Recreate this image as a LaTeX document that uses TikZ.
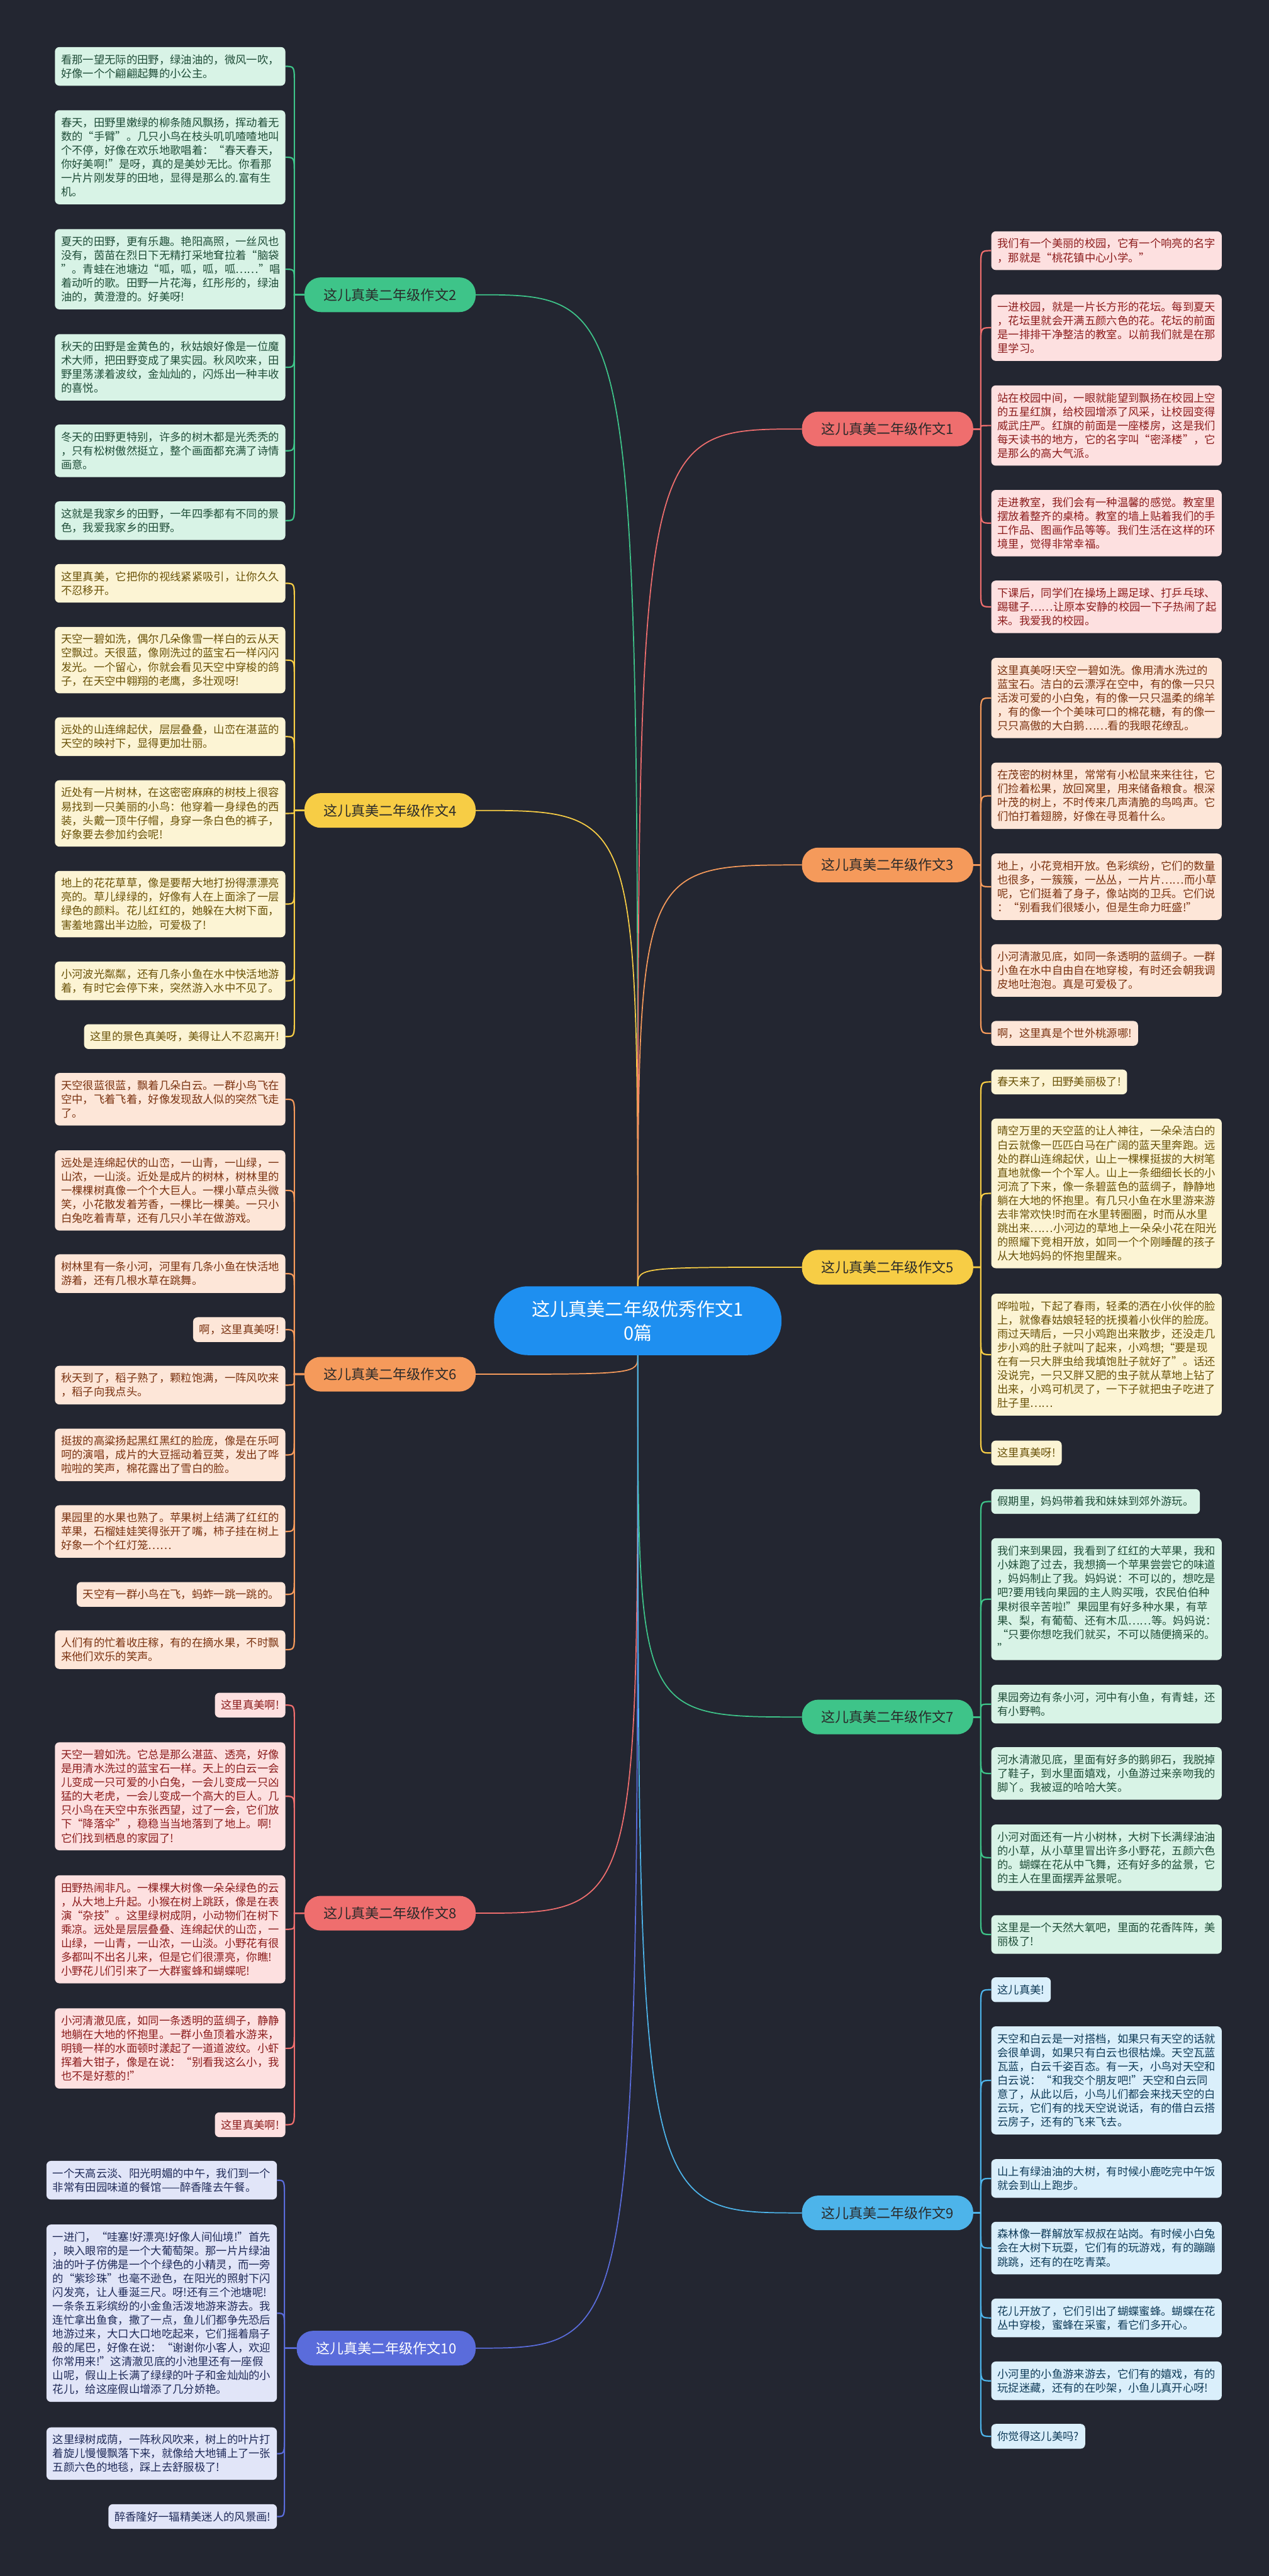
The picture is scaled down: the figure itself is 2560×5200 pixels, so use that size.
\documentclass[tikz,border=0pt]{standalone}
\usepackage{fontspec}
\newfontfamily\cjk{Noto Sans CJK SC}
\usetikzlibrary{calc}
\definecolor{bgc}{HTML}{232631}
\definecolor{gB}{HTML}{3EC489}\definecolor{gF}{HTML}{D8F3E6}\definecolor{gT}{HTML}{1F4D38}
\definecolor{yB}{HTML}{F7CD45}\definecolor{yF}{HTML}{FCF4D4}\definecolor{yT}{HTML}{6A5208}
\definecolor{oB}{HTML}{F59A5B}\definecolor{oF}{HTML}{FDE6D8}\definecolor{oT}{HTML}{7A3210}
\definecolor{rB}{HTML}{EF6E6E}\definecolor{rF}{HTML}{FDE0E0}\definecolor{rT}{HTML}{8C1C1C}
\definecolor{pB}{HTML}{5A6CDB}\definecolor{pF}{HTML}{E1E5F8}\definecolor{pT}{HTML}{1F2A58}
\definecolor{cB}{HTML}{4DB4EA}\definecolor{cF}{HTML}{DAEFFB}\definecolor{cT}{HTML}{0F3B58}
\definecolor{mainB}{HTML}{1E8FF0}
\definecolor{brT}{HTML}{2A2A2A}
\pgfdeclarelayer{bgl}\pgfdeclarelayer{cnl}\pgfsetlayers{bgl,cnl,main}
\newcommand\leaffont{\cjk\fontsize{22}{28}\selectfont}
\newcommand\brfont{\cjk\fontsize{28}{34}\selectfont}
\newcommand\mainfont{\cjk\fontsize{37}{48}\selectfont}
\tikzset{
 leaf/.style={rounded corners=9pt, inner xsep=12.5pt, inner ysep=3pt, align=left, font=\leaffont},
 wide/.style={text width=440pt},
 nl/.style={minimum height={28*#1+22}},
 gleaf/.style={leaf, fill=gF, text=gT},
 yleaf/.style={leaf, fill=yF, text=yT},
 oleaf/.style={leaf, fill=oF, text=oT},
 rleaf/.style={leaf, fill=rF, text=rT},
 pleaf/.style={leaf, fill=pF, text=pT},
 cleaf/.style={leaf, fill=cF, text=cT},
 branch/.style={rounded corners=33pt, minimum height=70pt, inner xsep=39pt, inner ysep=2pt, font=\brfont, text=brT},
 cw/.style={line width=2.8pt},
}
\newcommand\connL[4]{\begin{pgfonlayer}{cnl}\draw[#3, cw] let \p1=(#1.west), \p2=(#2.east), \n1={sign(\y1-\y2)}, \n2={min(36,abs(\y1-\y2)/2)} in (\p2) .. controls (\x2+#4,\y2) .. (\x2+#4,\y2+\n1*\n2*1pt) -- (\x2+#4,\y1) -- (\p1);\end{pgfonlayer}}
\newcommand\connR[4]{\begin{pgfonlayer}{cnl}\draw[#3, cw] let \p1=(#1.east), \p2=(#2.west), \n1={sign(\y1-\y2)}, \n2={min(36,abs(\y1-\y2)/2)} in (\p2) .. controls (\x2-#4,\y2) .. (\x2-#4,\y2+\n1*\n2*1pt) -- (\x2-#4,\y1) -- (\p1);\end{pgfonlayer}}
% central connector: #1 branch, #2 branch anchor, #3 colour, #4 central anchor
\newcommand\cc[4]{\begin{pgfonlayer}{cnl}\draw[#3, line width=2.2pt] let \p1=(C.#4), \p2=(#1.#2) in (\p1) .. controls (\x1,\y2) .. (\p2);\end{pgfonlayer}}
\begin{document}
\begin{tikzpicture}[x=1pt, y=-1pt]
\begin{pgfonlayer}{bgl}
\fill[bgc] (0,0) rectangle (2560,5200);
\end{pgfonlayer}
\useasboundingbox (0,0) rectangle (2560,5200);

% central
\node[fill=mainB, text=white, rounded corners=68pt, minimum width=580pt, minimum height=139pt, align=center, font=\mainfont] (C) at (1287,2666) {这儿真美二年级优秀作文1\\0篇};

% branches
\node[branch, fill=gB, anchor=east] (b2) at (960,595) {这儿真美二年级作文2};
\node[branch, fill=yB, anchor=east] (b4) at (960,1636) {这儿真美二年级作文4};
\node[branch, fill=oB, anchor=east] (b6) at (960,2774) {这儿真美二年级作文6};
\node[branch, fill=rB, anchor=east] (b8) at (960,3862) {这儿真美二年级作文8};
\node[branch, fill=pB, anchor=east, text=white] (b10) at (960,4740) {这儿真美二年级作文10};
\node[branch, fill=rB, anchor=west] (b1) at (1618,866) {这儿真美二年级作文1};
\node[branch, fill=oB, anchor=west] (b3) at (1618,1746) {这儿真美二年级作文3};
\node[branch, fill=yB, anchor=west] (b5) at (1618,2558) {这儿真美二年级作文5};
\node[branch, fill=gB, anchor=west] (b7) at (1618,3466) {这儿真美二年级作文7};
\node[branch, fill=cB, anchor=west] (b9) at (1618,4467) {这儿真美二年级作文9};

% ---------- left green (2)
\node[gleaf, wide, nl=2, anchor=east] (gl1) at (576,134) {看那一望无际的田野，绿油油的，微风一吹，\\好像一个个翩翩起舞的小公主。};
\node[gleaf, wide, nl=6, anchor=east] (gl2) at (576,317.5) {春天，田野里嫩绿的柳条随风飘扬，挥动着无\\数的“手臂”。几只小鸟在枝头叽叽喳喳地叫\\个不停，好像在欢乐地歌唱着：“春天春天，\\你好美啊!”是呀，真的是美妙无比。你看那\\一片片刚发芽的田地，显得是那么的.富有生\\机。};
\node[gleaf, wide, nl=5, anchor=east] (gl3) at (576,543.5) {夏天的田野，更有乐趣。艳阳高照，一丝风也\\没有，茵苗在烈日下无精打采地耷拉着“脑袋\\”。青蛙在池塘边“呱，呱，呱，呱……”唱\\着动听的歌。田野一片花海，红彤彤的，绿油\\油的，黄澄澄的。好美呀!};
\node[gleaf, wide, nl=4, anchor=east] (gl4) at (576,741.5) {秋天的田野是金黄色的，秋姑娘好像是一位魔\\术大师，把田野变成了果实园。秋风吹来，田\\野里荡漾着波纹，金灿灿的，闪烁出一种丰收\\的喜悦。};
\node[gleaf, wide, nl=3, anchor=east] (gl5) at (576,910) {冬天的田野更特别，许多的树木都是光秃秃的\\，只有松树傲然挺立，整个画面都充满了诗情\\画意。};
\node[gleaf, wide, nl=2, anchor=east] (gl6) at (576,1051) {这就是我家乡的田野，一年四季都有不同的景\\色，我爱我家乡的田野。};

% ---------- left yellow (4)
\node[yleaf, wide, nl=2, anchor=east] (yl1) at (576,1177.5) {这里真美，它把你的视线紧紧吸引，让你久久\\不忍移开。};
\node[yleaf, wide, nl=4, anchor=east] (yl2) at (576,1332.5) {天空一碧如洗，偶尔几朵像雪一样白的云从天\\空飘过。天很蓝，像刚洗过的蓝宝石一样闪闪\\发光。一个留心，你就会看见天空中穿梭的鸽\\子，在天空中翱翔的老鹰，多壮观呀!};
\node[yleaf, wide, nl=2, anchor=east] (yl3) at (576,1487) {远处的山连绵起伏，层层叠叠，山峦在湛蓝的\\天空的映衬下，显得更加壮丽。};
\node[yleaf, wide, nl=4, anchor=east] (yl4) at (576,1642) {近处有一片树林，在这密密麻麻的树枝上很容\\易找到一只美丽的小鸟：他穿着一身绿色的西\\装，头戴一顶牛仔帽，身穿一条白色的裤子，\\好象要去参加约会呢!};
\node[yleaf, wide, nl=4, anchor=east] (yl5) at (576,1825) {地上的花花草草，像是要帮大地打扮得漂漂亮\\亮的。草儿绿绿的，好像有人在上面涂了一层\\绿色的颜料。花儿红红的，她躲在大树下面，\\害羞地露出半边脸，可爱极了!};
\node[yleaf, wide, nl=2, anchor=east] (yl6) at (576,1980) {小河波光粼粼，还有几条小鱼在水中快活地游\\着，有时它会停下来，突然游入水中不见了。};
\node[yleaf, nl=1, anchor=east] (yl7) at (576,2092.5) {这里的景色真美呀，美得让人不忍离开!};

% ---------- left orange (6)
\node[oleaf, wide, nl=3, anchor=east] (ol1) at (576,2219) {天空很蓝很蓝，飘着几朵白云。一群小鸟飞在\\空中，飞着飞着，好像发现敌人似的突然飞走\\了。};
\node[oleaf, wide, nl=5, anchor=east] (ol2) at (576,2403) {远处是连绵起伏的山峦，一山青，一山绿，一\\山浓，一山淡。近处是成片的树林，树林里的\\一棵棵树真像一个个大巨人。一棵小草点头微\\笑，小花散发着芳香，一棵比一棵美。一只小\\白兔吃着青草，还有几只小羊在做游戏。};
\node[oleaf, wide, nl=2, anchor=east] (ol3) at (576,2571) {树林里有一条小河，河里有几条小鱼在快活地\\游着，还有几根水草在跳舞。};
\node[oleaf, nl=1, anchor=east] (ol4) at (576,2684) {啊，这里真美呀!};
\node[oleaf, wide, nl=2, anchor=east] (ol5) at (576,2796) {秋天到了，稻子熟了，颗粒饱满，一阵风吹来\\，稻子向我点头。};
\node[oleaf, wide, nl=3, anchor=east] (ol6) at (576,2937) {挺拔的高粱扬起黑红黑红的脸庞，像是在乐呵\\呵的演唱，成片的大豆摇动着豆荚，发出了哗\\啦啦的笑声，棉花露出了雪白的脸。};
\node[oleaf, wide, nl=3, anchor=east] (ol7) at (576,3091.5) {果园里的水果也熟了。苹果树上结满了红红的\\苹果，石榴娃娃笑得张开了嘴，柿子挂在树上\\好象一个个红灯笼……};
\node[oleaf, nl=1, anchor=east] (ol8) at (576,3218.5) {天空有一群小鸟在飞，蚂蚱一跳一跳的。};
\node[oleaf, wide, nl=2, anchor=east] (ol9) at (576,3330) {人们有的忙着收庄稼，有的在摘水果，不时飘\\来他们欢乐的笑声。};

% ---------- left red (8)
\node[rleaf, nl=1, anchor=east] (rl1) at (576,3442) {这里真美啊!};
\node[rleaf, wide, nl=7, anchor=east] (rl2) at (576,3626) {天空一碧如洗。它总是那么湛蓝、透亮，好像\\是用清水洗过的蓝宝石一样。天上的白云一会\\儿变成一只可爱的小白兔，一会儿变成一只凶\\猛的大老虎，一会儿变成一个高大的巨人。几\\只小鸟在天空中东张西望，过了一会，它们放\\下“降落伞”，稳稳当当地落到了地上。啊!\\它们找到栖息的家园了!};
\node[rleaf, wide, nl=7, anchor=east] (rl3) at (576,3894.5) {田野热闹非凡。一棵棵大树像一朵朵绿色的云\\，从大地上升起。小猴在树上跳跃，像是在表\\演“杂技”。这里绿树成阴，小动物们在树下\\乘凉。远处是层层叠叠、连绵起伏的山峦，一\\山绿，一山青，一山浓，一山淡。小野花有很\\多都叫不出名儿来，但是它们很漂亮，你瞧!\\小野花儿们引来了一大群蜜蜂和蝴蝶呢!};
\node[rleaf, wide, nl=5, anchor=east] (rl4) at (576,4135) {小河清澈见底，如同一条透明的蓝绸子，静静\\地躺在大地的怀抱里。一群小鱼顶着水游来，\\明镜一样的水面顿时漾起了一道道波纹。小虾\\挥着大钳子，像是在说：“别看我这么小，我\\也不是好惹的!”};
\node[rleaf, nl=1, anchor=east] (rl5) at (576,4289) {这里真美啊!};

% ---------- left blue (10)
\node[pleaf, wide, nl=2, anchor=east] (pl1) at (559,4401) {一个天高云淡、阳光明媚的中午，我们到一个\\非常有田园味道的餐馆——醉香隆去午餐。};
\node[pleaf, wide, nl=12, anchor=east] (pl2) at (559,4669.5) {一进门，“哇塞!好漂亮!好像人间仙境!”首先\\，映入眼帘的是一个大葡萄架。那一片片绿油\\油的叶子仿佛是一个个绿色的小精灵，而一旁\\的“紫珍珠”也毫不逊色，在阳光的照射下闪\\闪发亮，让人垂涎三尺。呀!还有三个池塘呢!\\一条条五彩缤纷的小金鱼活泼地游来游去。我\\连忙拿出鱼食，撒了一点，鱼儿们都争先恐后\\地游过来，大口大口地吃起来，它们摇着扇子\\般的尾巴，好像在说：“谢谢你小客人，欢迎\\你常用来!”这清澈见底的小池里还有一座假\\山呢，假山上长满了绿绿的叶子和金灿灿的小\\花儿，给这座假山增添了几分娇艳。};
\node[pleaf, wide, nl=3, anchor=east] (pl3) at (559,4953) {这里绿树成荫，一阵秋风吹来，树上的叶片打\\着旋儿慢慢飘落下来，就像给大地铺上了一张\\五颜六色的地毯，踩上去舒服极了!};
\node[pleaf, nl=1, anchor=east] (pl4) at (559,5080) {醉香隆好一辐精美迷人的风景画!};

% ---------- right red (1)
\node[rleaf, wide, nl=2, anchor=west] (ra1) at (2000,506) {我们有一个美丽的校园，它有一个响亮的名字\\，那就是“桃花镇中心小学。”};
\node[rleaf, wide, nl=4, anchor=west] (ra2) at (2000,661.5) {一进校园，就是一片长方形的花坛。每到夏天\\，花坛里就会开满五颜六色的花。花坛的前面\\是一排排干净整洁的教室。以前我们就是在那\\里学习。};
\node[rleaf, wide, nl=5, anchor=west] (ra3) at (2000,859) {站在校园中间，一眼就能望到飘扬在校园上空\\的五星红旗，给校园增添了风采，让校园变得\\威武庄严。红旗的前面是一座楼房，这是我们\\每天读书的地方，它的名字叫“密泽楼”，它\\是那么的高大气派。};
\node[rleaf, wide, nl=4, anchor=west] (ra4) at (2000,1056) {走进教室，我们会有一种温馨的感觉。教室里\\摆放着整齐的桌椅。教室的墙上贴着我们的手\\工作品、图画作品等等。我们生活在这样的环\\境里，觉得非常幸福。};
\node[rleaf, wide, nl=3, anchor=west] (ra5) at (2000,1225) {下课后，同学们在操场上踢足球、打乒乓球、\\踢毽子……让原本安静的校园一下子热闹了起\\来。我爱我的校园。};

% ---------- right orange (3)
\node[oleaf, wide, nl=5, anchor=west] (ob1) at (2000,1409) {这里真美呀!天空一碧如洗。像用清水洗过的\\蓝宝石。洁白的云漂浮在空中，有的像一只只\\活泼可爱的小白兔，有的像一只只温柔的绵羊\\，有的像一个个美味可口的棉花糖，有的像一\\只只高傲的大白鹅……看的我眼花缭乱。};
\node[oleaf, wide, nl=4, anchor=west] (ob2) at (2000,1606.5) {在茂密的树林里，常常有小松鼠来来往往，它\\们捡着松果，放回窝里，用来储备粮食。根深\\叶茂的树上，不时传来几声清脆的鸟鸣声。它\\们怕打着翅膀，好像在寻觅着什么。};
\node[oleaf, wide, nl=4, anchor=west] (ob3) at (2000,1790) {地上，小花竞相开放。色彩缤纷，它们的数量\\也很多，一簇簇，一丛丛，一片片……而小草\\呢，它们挺着了身子，像站岗的卫兵。它们说\\：“别看我们很矮小，但是生命力旺盛!”};
\node[oleaf, wide, nl=3, anchor=west] (ob4) at (2000,1959) {小河清澈见底，如同一条透明的蓝绸子。一群\\小鱼在水中自由自在地穿梭，有时还会朝我调\\皮地吐泡泡。真是可爱极了。};
\node[oleaf, nl=1, anchor=west] (ob5) at (2000,2086) {啊，这里真是个世外桃源哪!};

% ---------- right yellow (5)
\node[yleaf, nl=1, anchor=west] (yr1) at (2000,2184) {春天来了，田野美丽极了!};
\node[yleaf, wide, nl=10, anchor=west] (yr2) at (2000,2409) {晴空万里的天空蓝的让人神往，一朵朵洁白的\\白云就像一匹匹白马在广阔的蓝天里奔跑。远\\处的群山连绵起伏，山上一棵棵挺拔的大树笔\\直地就像一个个军人。山上一条细细长长的小\\河流了下来，像一条碧蓝色的蓝绸子，静静地\\躺在大地的怀抱里。有几只小鱼在水里游来游\\去非常欢快!时而在水里转圈圈，时而从水里\\跳出来……小河边的草地上一朵朵小花在阳光\\的照耀下竞相开放，如同一个个刚睡醒的孩子\\从大地妈妈的怀抱里醒来。};
\node[yleaf, wide, nl=8, anchor=west] (yr3) at (2000,2734.5) {哗啦啦，下起了春雨，轻柔的洒在小伙伴的脸\\上，就像春姑娘轻轻的抚摸着小伙伴的脸庞。\\雨过天晴后，一只小鸡跑出来散步，还没走几\\步小鸡的肚子就叫了起来，小鸡想;“要是现\\在有一只大胖虫给我填饱肚子就好了”。话还\\没说完，一只又胖又肥的虫子就从草地上钻了\\出来，小鸡可机灵了，一下子就把虫子吃进了\\肚子里……};
\node[yleaf, nl=1, anchor=west] (yr4) at (2000,2933) {这里真美呀!};

% ---------- right green (7)
\node[gleaf, nl=1, anchor=west] (gr1) at (2000,3031) {假期里，妈妈带着我和妹妹到郊外游玩。};
\node[gleaf, wide, nl=8, anchor=west] (gr2) at (2000,3228) {我们来到果园，我看到了红红的大苹果，我和\\小妹跑了过去，我想摘一个苹果尝尝它的味道\\，妈妈制止了我。妈妈说：不可以的，想吃是\\吧?要用钱向果园的主人购买哦，农民伯伯种\\果树很辛苦啦!”果园里有好多种水果，有苹\\果、梨，有葡萄、还有木瓜……等。妈妈说：\\“只要你想吃我们就买，不可以随便摘采的。\\”};
\node[gleaf, wide, nl=2, anchor=west] (gr3) at (2000,3440) {果园旁边有条小河，河中有小鱼，有青蛙，还\\有小野鸭。};
\node[gleaf, wide, nl=3, anchor=west] (gr4) at (2000,3580) {河水清澈见底，里面有好多的鹅卵石，我脱掉\\了鞋子，到水里面嬉戏，小鱼游过来亲吻我的\\脚丫。我被逗的哈哈大笑。};
\node[gleaf, wide, nl=4, anchor=west] (gr5) at (2000,3750) {小河对面还有一片小树林，大树下长满绿油油\\的小草，从小草里冒出许多小野花，五颜六色\\的。蝴蝶在花从中飞舞，还有好多的盆景，它\\的主人在里面摆弄盆景呢。};
\node[gleaf, wide, nl=2, anchor=west] (gr6) at (2000,3905) {这里是一个天然大氧吧，里面的花香阵阵，美\\丽极了!};

% ---------- right light blue (9)
\node[cleaf, nl=1, anchor=west] (cr1) at (2000,4016.5) {这儿真美!};
\node[cleaf, wide, nl=7, anchor=west] (cr2) at (2000,4199.5) {天空和白云是一对搭档，如果只有天空的话就\\会很单调，如果只有白云也很枯燥。天空瓦蓝\\瓦蓝，白云千姿百态。有一天，小鸟对天空和\\白云说：“和我交个朋友吧!”天空和白云同\\意了，从此以后，小鸟儿们都会来找天空的白\\云玩，它们有的找天空说说话，有的借白云搭\\云房子，还有的飞来飞去。};
\node[cleaf, wide, nl=2, anchor=west] (cr3) at (2000,4397.5) {山上有绿油油的大树，有时候小鹿吃完中午饭\\就会到山上跑步。};
\node[cleaf, wide, nl=3, anchor=west] (cr4) at (2000,4538) {森林像一群解放军叔叔在站岗。有时候小白兔\\会在大树下玩耍，它们有的玩游戏，有的蹦蹦\\跳跳，还有的在吃青菜。};
\node[cleaf, wide, nl=2, anchor=west] (cr5) at (2000,4679) {花儿开放了，它们引出了蝴蝶蜜蜂。蝴蝶在花\\丛中穿梭，蜜蜂在采蜜，看它们多开心。};
\node[cleaf, wide, nl=2, anchor=west] (cr6) at (2000,4806) {小河里的小鱼游来游去，它们有的嬉戏，有的\\玩捉迷藏，还有的在吵架，小鱼儿真开心呀!};
\node[cleaf, nl=1, anchor=west] (cr7) at (2000,4918) {你觉得这儿美吗?};

% ---------- central connectors
\cc{b2}{east}{gB}{north}\cc{b4}{east}{yB}{north}\cc{b6}{east}{oB}{south}\cc{b8}{east}{rB}{south}\cc{b10}{east}{pB}{south}
\cc{b1}{west}{rB}{north}\cc{b3}{west}{oB}{north}\cc{b5}{west}{yB}{north}\cc{b7}{west}{gB}{south}\cc{b9}{west}{cB}{south}

% ---------- leaf connectors
\foreach \lf in {gl1,gl2,gl3,gl4,gl5,gl6}{\connL{b2}{\lf}{gB}{18pt}}
\foreach \lf in {yl1,yl2,yl3,yl4,yl5,yl6,yl7}{\connL{b4}{\lf}{yB}{18pt}}
\foreach \lf in {ol1,ol2,ol3,ol4,ol5,ol6,ol7,ol8,ol9}{\connL{b6}{\lf}{oB}{18pt}}
\foreach \lf in {rl1,rl2,rl3,rl4,rl5}{\connL{b8}{\lf}{rB}{18pt}}
\foreach \lf in {pl1,pl2,pl3,pl4}{\connL{b10}{\lf}{pB}{15pt}}
\foreach \lf in {ra1,ra2,ra3,ra4,ra5}{\connR{b1}{\lf}{rB}{21pt}}
\foreach \lf in {ob1,ob2,ob3,ob4,ob5}{\connR{b3}{\lf}{oB}{21pt}}
\foreach \lf in {yr1,yr2,yr3,yr4}{\connR{b5}{\lf}{yB}{21pt}}
\foreach \lf in {gr1,gr2,gr3,gr4,gr5,gr6}{\connR{b7}{\lf}{gB}{21pt}}
\foreach \lf in {cr1,cr2,cr3,cr4,cr5,cr6,cr7}{\connR{b9}{\lf}{cB}{21pt}}
\end{tikzpicture}
\end{document}
